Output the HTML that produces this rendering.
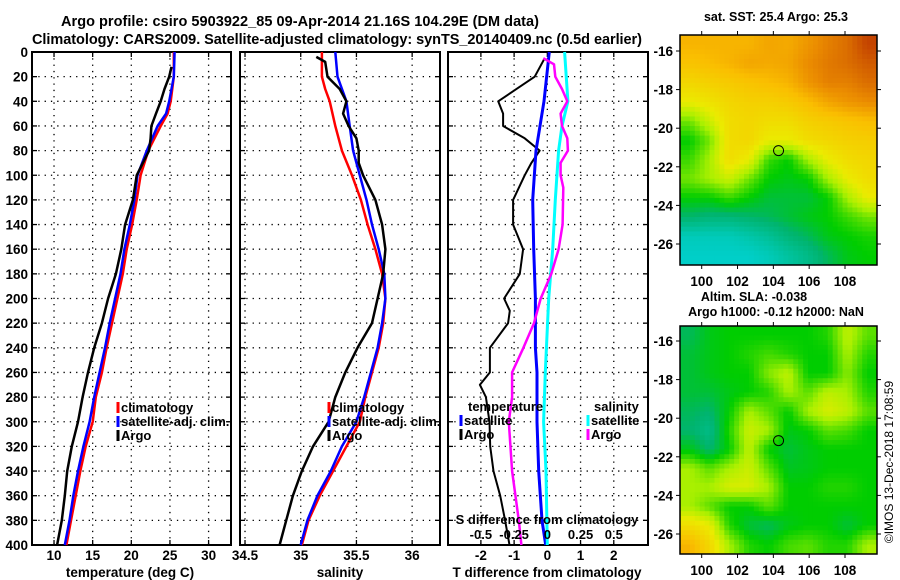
<!DOCTYPE html>
<html><head><meta charset="utf-8">
<style>
html,body{margin:0;padding:0;background:#fff;}
svg{display:block;font-family:"Liberation Sans",sans-serif;font-weight:bold;}
</style></head>
<body>
<svg id="fig" width="900" height="580" viewBox="0 0 900 580" xmlns="http://www.w3.org/2000/svg">
<text x="300" y="26" text-anchor="middle" font-size="14.5" textLength="478">Argo profile: csiro 5903922_85 09-Apr-2014 21.16S 104.29E (DM data)</text>
<text x="337" y="44" text-anchor="middle" font-size="14.5" textLength="610">Climatology: CARS2009. Satellite-adjusted climatology: synTS_20140409.nc (0.5d earlier)</text>
<g id="g"></g>
<text transform="translate(893,462) rotate(-90)" text-anchor="middle" font-size="12" font-weight="normal">©IMOS 13-Dec-2018 17:08:59</text>
</svg>
<script>
// ---- profile data ----
const depthsClim = [0,20,40,50,60,80,100,120,140,160,180,200,220,240,260,280,300,320,340,360,380,400];
const tempClim   = [25.5,25.5,25.1,24.7,23.8,22.2,21.2,20.7,20.1,19.4,18.9,18.2,17.5,16.8,16.2,15.4,15.0,14.1,13.4,12.8,12.2,11.6];
const tempSat    = [25.6,25.5,24.9,24.5,23.4,22.0,20.8,20.4,19.8,19.1,18.6,17.9,17.2,16.6,15.9,15.2,14.6,13.8,13.1,12.5,12.0,11.4];
const depthsArgoT = [12,20,30,40,50,60,70,80,100,120,140,160,180,200,220,240,260,280,300,320,340,360,380,400];
const tempArgo    = [25.2,24.9,24.3,23.8,23.2,22.6,22.5,22.3,20.7,20.2,19.2,18.7,18.0,17.0,16.2,15.2,14.4,13.7,13.1,12.3,11.7,11.4,11.0,10.4];
const salClimDepths = [0,20,30,40,60,80,100,120,140,160,180,200,220,240,260,280,300,320,340,360,380,400];
const salClim = [35.19,35.19,35.22,35.26,35.31,35.37,35.46,35.54,35.6,35.67,35.73,35.76,35.74,35.70,35.64,35.58,35.53,35.41,35.29,35.17,35.07,35.01];
const salSatDepths = [0,20,40,60,80,100,120,140,160,180,200,220,240,260,280,300,320,340,360,380,400];
const salSat = [35.31,35.33,35.41,35.44,35.47,35.53,35.59,35.64,35.70,35.75,35.76,35.73,35.69,35.63,35.57,35.5,35.37,35.27,35.15,35.06,35.0];
const salArgoDepths = [4,8,20,30,40,50,60,70,80,90,100,120,140,160,180,200,220,240,260,280,300,320,340,360,380,400];
const salArgo = [35.14,35.22,35.24,35.35,35.41,35.38,35.43,35.50,35.52,35.52,35.56,35.67,35.73,35.76,35.74,35.69,35.64,35.51,35.40,35.31,35.25,35.11,35.01,34.93,34.87,34.81];
const dTDepthsArgo = [5,20,40,50,60,70,80,90,100,120,140,150,160,180,200,210,220,240,260,270,280,300,320,340,360,380,400];
const dTArgo = [-0.08,-0.38,-1.48,-1.33,-1.33,-0.68,-0.23,-0.48,-0.68,-1.03,-1.03,-0.88,-0.73,-0.83,-1.3,-1.13,-1.18,-1.73,-1.73,-2.03,-1.85,-1.74,-1.72,-1.62,-1.42,-1.27,-1.14];
const dTSatDepths = [0,40,80,120,160,200,240,260,300,340,380,400];
const dTSat = [0.06,-0.1,-0.34,-0.44,-0.41,-0.36,-0.36,-0.31,-0.31,-0.26,-0.16,-0.05];
const dSSatDepths = [0,40,60,80,120,160,200,260,300,340,400];
const dSSat = [0.13,0.155,0.11,0.085,0.06,0.04,0.01,-0.015,-0.028,-0.01,0.0];
const dSArgoDepths = [5,10,20,30,40,50,60,70,80,90,100,110,140,160,180,200,220,240,260,280,300,340,380,400];
const dSArgo = [-0.03,0.05,0.06,0.11,0.15,0.1,0.11,0.15,0.155,0.1,0.1,0.12,0.115,0.085,0.03,-0.05,-0.1,-0.18,-0.265,-0.265,-0.29,-0.265,-0.215,-0.195];
const depthTicks = [0,20,40,60,80,100,120,140,160,180,200,220,240,260,280,300,320,340,360,380,400];
const tTicks = [10,15,20,25,30];
const sTicks = [34.5,35,35.5,36];
const dTTicks = [-2,-1,0,1,2];
const dSTicks = [-0.5,-0.25,0,0.25,0.5];
const dSTickLabels = ["-0.5","-0.25","0","0.25","0.5"];
// ---- map data (values 0..1 on colormap) ----
const lonTicks = [100,102,104,106,108];
const latTicks = [-16,-18,-20,-22,-24,-26];
const sstRows = [
[.72,.72,.72,.72,.75,.74,.78,.82,.85,.92],
[.68,.7,.72,.75,.74,.75,.8,.83,.85,.88],
[.62,.64,.66,.68,.7,.72,.78,.82,.82,.85],
[.55,.58,.62,.64,.64,.66,.7,.75,.78,.8],
[.4,.5,.6,.62,.6,.6,.64,.66,.68,.7],
[.3,.4,.6,.62,.55,.55,.6,.62,.64,.65],
[.35,.45,.6,.55,.35,.3,.45,.55,.6,.62],
[.4,.45,.5,.4,.3,.28,.3,.45,.55,.6],
[.3,.3,.35,.3,.25,.25,.25,.3,.45,.55],
[.2,.18,.18,.2,.22,.25,.28,.3,.35,.4],
[.05,.05,.05,.08,.12,.18,.22,.28,.3,.32],
[.02,.02,.02,.02,.05,.1,.15,.22,.28,.3]];
const slaRows = [
[.22,.28,.3,.3,.3,.3,.3,.33,.48,.38],
[.25,.28,.3,.33,.36,.33,.3,.3,.45,.33],
[.25,.28,.3,.3,.42,.48,.3,.3,.42,.3],
[.25,.25,.28,.3,.33,.45,.38,.48,.45,.33],
[.22,.2,.3,.45,.38,.3,.45,.52,.48,.38],
[.2,.15,.33,.5,.45,.28,.3,.38,.36,.3],
[.28,.2,.3,.48,.3,.25,.28,.3,.3,.3],
[.45,.38,.45,.5,.38,.27,.28,.3,.3,.3],
[.45,.45,.52,.52,.45,.3,.3,.33,.33,.3],
[.45,.38,.3,.3,.38,.3,.3,.3,.3,.3],
[.6,.55,.33,.25,.22,.28,.3,.3,.25,.3],
[.72,.62,.45,.33,.3,.36,.38,.33,.33,.45]];
const argoLon = 104.29, argoLat = -21.16;

const NS="http://www.w3.org/2000/svg";
const G=document.getElementById('g');
function mk(tag,attrs,parent){const e=document.createElementNS(NS,tag);for(const k in attrs)e.setAttribute(k,attrs[k]);(parent||G).appendChild(e);return e;}
function txt(x,y,s,size,anchor,parent){const t=mk('text',{x:x,y:y,'font-size':size,'text-anchor':anchor||'middle'},parent);t.textContent=s;return t;}

const Y0=52,Y1=545;
const yD=d=>Y0+(Y1-Y0)*d/400;

function panel(name,x0,x1,xmin,xmax,xticks,xlabels){
  const g=mk('g',{});
  
  
  const sx=v=>x0+(x1-x0)*(v-xmin)/(xmax-xmin);
  depthTicks.forEach(d=>{if(d>0&&d<400){const l=mk('line',{x1:x0,x2:x1,y1:yD(d),y2:yD(d),stroke:'#000','stroke-width':1.3,'stroke-dasharray':'1.3 5'},g);}
    mk('line',{x1:x0,x2:x0+5,y1:yD(d),y2:yD(d),stroke:'#000','stroke-width':1.3},g);
    mk('line',{x1:x1-5,x2:x1,y1:yD(d),y2:yD(d),stroke:'#000','stroke-width':1.3},g);});
  xticks.forEach(v=>{const x=sx(v);if(x>x0+1&&x<x1-1){const l=mk('line',{x1:x,x2:x,y1:Y0,y2:Y1,stroke:'#000','stroke-width':1.3,'stroke-dasharray':'1.3 5'},g);}
    mk('line',{x1:x,x2:x,y1:Y1,y2:Y1-5,stroke:'#000','stroke-width':1.3},g);
    mk('line',{x1:x,x2:x,y1:Y0,y2:Y0+5,stroke:'#000','stroke-width':1.3},g);});
  if(xlabels) xticks.forEach((v,i)=>{const t=txt(sx(v),560,xlabels[i],13.5,'middle',g);});
  const r=mk('rect',{x:x0,y:Y0,width:x1-x0,height:Y1-Y0,fill:'none',stroke:'#000','stroke-width':2},g);
  
  return {g,sx};
}
function line(p,sx,vals,depths,color,w,name){
  const d=vals.map((v,i)=>(i?'L':'M')+sx(v).toFixed(1)+' '+yD(depths[i]).toFixed(1)).join(' ');
  const e=mk('path',{d:d,fill:'none',stroke:color,'stroke-width':w,'stroke-linejoin':'round'},p);
  
  
}
function legend(p,x,y,color,label,name){
  mk('line',{x1:x,x2:x,y1:y-10,y2:y+1,stroke:color,'stroke-width':3},p);
  const t=txt(x+3,y,label,13,'start',p);
  
  
}

const P1=panel('temperature-panel',32,231,7.15,32.9,tTicks,tTicks.map(String));
depthTicks.forEach(d=>{const t=txt(28,yD(d)+5,String(d),13.5,'end',P1.g);});
line(P1.g,P1.sx,tempClim,depthsClim,'#f00',2.5,'temp-climatology-line');
line(P1.g,P1.sx,tempSat,depthsClim,'#00f',2.5,'temp-satellite-line');
line(P1.g,P1.sx,tempArgo,depthsArgoT,'#000',2.5,'temp-argo-line');
legend(P1.g,118,412,'#f00','climatology','legend-climatology');
legend(P1.g,118,426,'#00f','satellite-adj. clim.','legend-satellite');
legend(P1.g,118,440,'#000','Argo','legend-argo');
let t=txt(130,577,'temperature (deg C)',13.5,'middle',P1.g);

const P2=panel('salinity-panel',240,440,34.455,36.25,sTicks,sTicks.map(String));
line(P2.g,P2.sx,salClim,salClimDepths,'#f00',2.5,'sal-climatology-line');
line(P2.g,P2.sx,salSat,salSatDepths,'#00f',2.5,'sal-satellite-line');
line(P2.g,P2.sx,salArgo,salArgoDepths,'#000',2.5,'sal-argo-line');
legend(P2.g,329,412,'#f00','climatology','legend-climatology-2');
legend(P2.g,329,426,'#00f','satellite-adj. clim.','legend-satellite-2');
legend(P2.g,329,440,'#000','Argo','legend-argo-2');
t=txt(340,577,'salinity',13.5,'middle',P2.g);

const P3=panel('difference-panel',448,648,-2.99,3.03,dTTicks,dTTicks.map(String));
const sxS=v=>P3.sx(v*4);
line(P3.g,P3.sx,dTArgo,dTDepthsArgo,'#000',2,'dT-argo-line');
line(P3.g,P3.sx,dTSat,dTSatDepths,'#00f',3,'dT-satellite-line');
line(P3.g,sxS,dSSat,dSSatDepths,'#0ff',3,'dS-satellite-line');
line(P3.g,sxS,dSArgo,dSArgoDepths,'#f0f',2.5,'dS-argo-line');
t=txt(468,411,'temperature',13,'start',P3.g);
legend(P3.g,461,425,'#00f','satellite','legend-t-satellite');
legend(P3.g,461,439,'#000','Argo','legend-t-argo');
t=txt(594,411,'salinity',13,'start',P3.g);
legend(P3.g,588,425,'#0ff','satellite','legend-s-satellite');
legend(P3.g,588,439,'#f0f','Argo','legend-s-argo');
t=txt(547,524,'S difference from climatology',13,'middle',P3.g);
dSTicks.forEach((v,i)=>{const e=txt(sxS(v),539,dSTickLabels[i],13,'middle',P3.g);});
t=txt(547,577,'T difference from climatology',13.5,'middle',P3.g);

// maps
const cstops=[[0,[0,210,210]],[0.2,[0,180,110]],[0.3,[0,205,0]],[0.45,[170,240,0]],[0.55,[235,235,0]],[0.7,[250,190,0]],[0.8,[235,140,0]],[1,[170,20,0]]];
function cmap(v){for(let i=1;i<cstops.length;i++){if(v<=cstops[i][0]){const a=cstops[i-1],b=cstops[i];const f=(v-a[0])/(b[0]-a[0]);const c=a[1].map((x,k)=>Math.round(x+(b[1][k]-x)*f));return 'rgb('+c.join(',')+')';}}return 'rgb(170,20,0)';}
function sample(rows,fy,fx){ // smooth rendering of the grid (display only)
  const nr=rows.length,nc=rows[0].length;
  const y=Math.min(Math.max(fy-0.5,0),nr-1),x=Math.min(Math.max(fx-0.5,0),nc-1);
  const i=Math.min(Math.floor(y),nr-2),j=Math.min(Math.floor(x),nc-2),a=y-i,b=x-j;
  return rows[i][j]*(1-a)*(1-b)+rows[i][j+1]*(1-a)*b+rows[i+1][j]*a*(1-b)+rows[i+1][j+1]*a*b;
}
function map(name,rows,x0,x1,y0,y1,yLat16,yLat26,titleLines){
  const g=mk('g',{});
  
  
  const lonX=lon=>701.7+(lon-100)*(845-701.7)/8;
  const latY=lat=>yLat16+(lat+16)*(yLat26-yLat16)/(-10);
  const nr=rows.length,nc=rows[0].length,SUB=4;
  const cw=(x1-x0)/(nc*SUB),ch=(y1-y0)/(nr*SUB);
  for(let i=0;i<nr*SUB;i++)for(let j=0;j<nc*SUB;j++){
    const v=sample(rows,(i+0.5)/SUB,(j+0.5)/SUB);
    const c=mk('rect',{x:(x0+j*cw).toFixed(2),y:(y0+i*ch).toFixed(2),width:(cw+0.5).toFixed(2),height:(ch+0.5).toFixed(2),fill:cmap(v)},g);
    
    
  }
  const f=mk('rect',{x:x0,y:y0,width:x1-x0,height:y1-y0,fill:'none',stroke:'#000','stroke-width':1.5},g);
  
  lonTicks.forEach(l=>{const x=lonX(l);mk('line',{x1:x,x2:x,y1:y0,y2:y0-4,stroke:'#000'},g);mk('line',{x1:x,x2:x,y1:y1,y2:y1+4,stroke:'#000'},g);
    const e=txt(x,y1+21,String(l),13.5,'middle',g);});
  latTicks.forEach(l=>{const y=latY(l);mk('line',{x1:x0,x2:x0-4,y1:y,y2:y,stroke:'#000'},g);mk('line',{x1:x1,x2:x1+4,y1:y,y2:y,stroke:'#000'},g);
    const e=txt(673,y+5,String(l),13.5,'end',g);});
  const c=mk('circle',{cx:lonX(argoLon),cy:latY(argoLat),r:5,fill:'none',stroke:'#000','stroke-width':1},g);
  
  titleLines.forEach(tl=>{const e=txt(tl[0],tl[1],tl[2],12.5,'middle',g);});
}
map('sst-map',sstRows,680,877,35,265,51,244,[[776,21,'sat. SST: 25.4 Argo: 25.3']]);
map('sla-map',slaRows,680,877,326,554,341,534,[[754,301,'Altim. SLA: -0.038'],[776,316,'Argo h1000: -0.12 h2000: NaN']]);
</script>
</body></html>
